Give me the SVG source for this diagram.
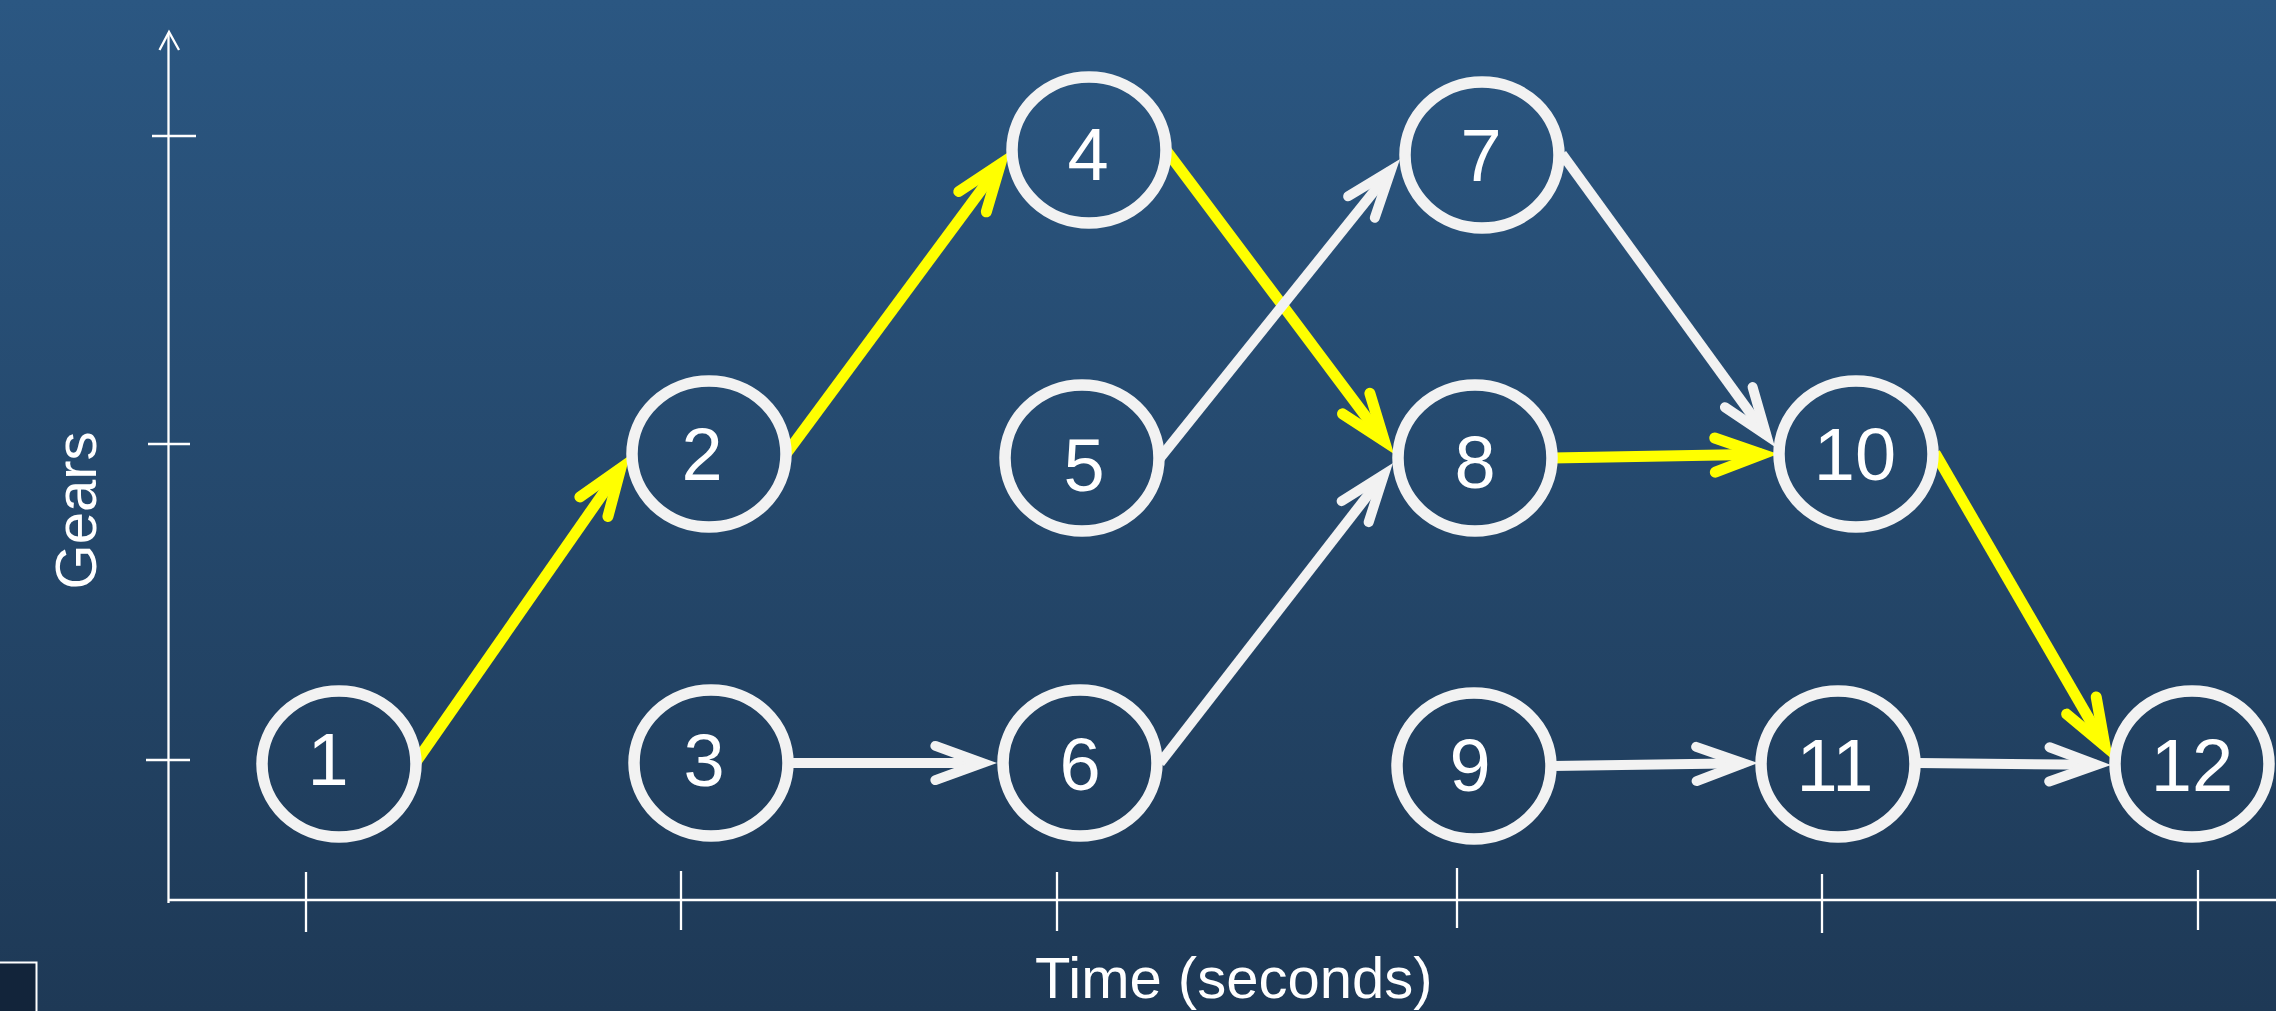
<svg xmlns="http://www.w3.org/2000/svg" width="2276" height="1011" viewBox="0 0 2276 1011">
<defs>
<linearGradient id="bg" x1="0" y1="0" x2="0" y2="1">
<stop offset="0" stop-color="#2b5782"/>
<stop offset="1" stop-color="#1e3956"/>
</linearGradient>
<marker id="arrW" markerUnits="userSpaceOnUse" orient="auto" refX="0" refY="0" markerWidth="10" markerHeight="10" style="overflow:visible">
<path d="M-47,-17.1 L0,0 L-47,17.1" fill="none" stroke="#f2f2f2" stroke-width="10" stroke-linecap="round" stroke-linejoin="miter" stroke-miterlimit="10"/>
</marker>
<marker id="arrY" markerUnits="userSpaceOnUse" orient="auto" refX="0" refY="0" markerWidth="10" markerHeight="10" style="overflow:visible">
<path d="M-47,-17.1 L0,0 L-47,17.1" fill="none" stroke="#ffff00" stroke-width="11" stroke-linecap="round" stroke-linejoin="miter" stroke-miterlimit="10"/>
</marker>
</defs>
<style>
.node ellipse { fill: none; stroke: #f2f2f2; stroke-width: 11.5; }
.node text { font-family: "Liberation Sans", Arial, sans-serif; font-size: 74px; fill: #ffffff; text-anchor: middle; }
.ew { stroke: #f2f2f2; stroke-width: 10; fill: none; marker-end: url(#arrW); }
.ey { stroke: #ffff00; stroke-width: 11; fill: none; marker-end: url(#arrY); }
.axis { stroke: #ffffff; stroke-width: 2.3; fill: none; }
.label { font-family: "Liberation Sans", Arial, sans-serif; font-size: 58px; fill: #ffffff; }
</style>
<rect x="0" y="0" width="2276" height="1011" fill="url(#bg)"/>

<g id="axes">
<line class="axis" x1="168.5" y1="33" x2="168.5" y2="903"/>
<path class="axis" d="M159.5,50 L169,32 L179,50"/>
<line class="axis" x1="168" y1="900" x2="2276" y2="900"/>
<line class="axis" x1="152" y1="136" x2="196" y2="136"/>
<line class="axis" x1="148" y1="444" x2="190" y2="444"/>
<line class="axis" x1="146" y1="760" x2="190" y2="760"/>
<line class="axis" x1="306" y1="872" x2="306" y2="932"/>
<line class="axis" x1="681" y1="871" x2="681" y2="930"/>
<line class="axis" x1="1057" y1="872" x2="1057" y2="931"/>
<line class="axis" x1="1457" y1="868" x2="1457" y2="928"/>
<line class="axis" x1="1822" y1="874" x2="1822" y2="933"/>
<line class="axis" x1="2198" y1="870" x2="2198" y2="930"/>
</g>

<text class="label" x="1035" y="998">Time (seconds)</text>
<text class="label" transform="translate(96,510.5) rotate(-90)" text-anchor="middle">Gears</text>

<rect x="-2" y="962.5" width="38.5" height="52" fill="#12243a" stroke="#ffffff" stroke-width="2"/>

<g id="connectors">
<line class="ey" x1="416" y1="762" x2="620.8" y2="468.1"/>
<line class="ey" x1="786" y1="454" x2="1000.5" y2="163.9"/>
<line class="ey" x1="1166" y1="150" x2="1384.4" y2="441.2"/>
<line class="ey" x1="1552" y1="458" x2="1762" y2="454.3"/>
<line class="ey" x1="1935" y1="453" x2="2105" y2="746.2"/>
<line class="ew" x1="788" y1="763" x2="982.4" y2="763"/>
<line class="ew" x1="1160" y1="458" x2="1390.9" y2="170.4"/>
<line class="ew" x1="1160" y1="763" x2="1384" y2="474.5"/>
<line class="ew" x1="1562" y1="154" x2="1766.4" y2="435.2"/>
<line class="ew" x1="1552" y1="766" x2="1743.4" y2="763.3"/>
<line class="ew" x1="1918" y1="763" x2="2096.4" y2="764.8"/>
</g>

<g id="node1" class="node"><ellipse cx="339" cy="764" rx="77" ry="73"/><text x="328" y="785">1</text></g>
<g id="node2" class="node"><ellipse cx="709" cy="454" rx="77" ry="73"/><text x="702" y="480">2</text></g>
<g id="node3" class="node"><ellipse cx="711" cy="763" rx="77" ry="73"/><text x="704" y="786">3</text></g>
<g id="node4" class="node"><ellipse cx="1089" cy="150" rx="77" ry="73"/><text x="1088" y="180">4</text></g>
<g id="node5" class="node"><ellipse cx="1082" cy="458" rx="77" ry="73"/><text x="1084" y="491">5</text></g>
<g id="node6" class="node"><ellipse cx="1080" cy="763" rx="77" ry="73"/><text x="1080" y="790">6</text></g>
<g id="node7" class="node"><ellipse cx="1482" cy="155" rx="77" ry="73"/><text x="1481" y="181">7</text></g>
<g id="node8" class="node"><ellipse cx="1475" cy="458" rx="77" ry="73"/><text x="1475" y="488">8</text></g>
<g id="node9" class="node"><ellipse cx="1474" cy="766" rx="77" ry="73"/><text x="1470" y="791">9</text></g>
<g id="node10" class="node"><ellipse cx="1856" cy="454" rx="77" ry="73"/><text x="1855" y="480">10</text></g>
<g id="node11" class="node"><ellipse cx="1838" cy="764" rx="77" ry="73"/><text x="1835" y="791">11</text></g>
<g id="node12" class="node"><ellipse cx="2192" cy="764" rx="77" ry="73"/><text x="2192" y="791">12</text></g>
</svg>
